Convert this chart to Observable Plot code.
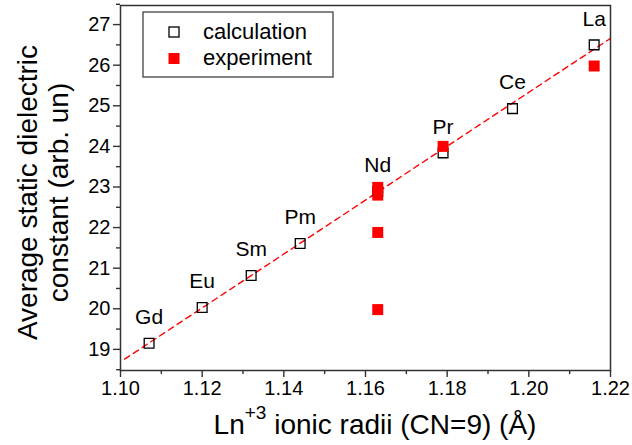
<!DOCTYPE html>
<html>
<head>
<meta charset="utf-8">
<script src="https://cdn.jsdelivr.net/npm/d3@7"></script>
<script src="https://cdn.jsdelivr.net/npm/@observablehq/plot@0.6"></script>
<style>
  html, body { margin: 0; padding: 0; background: #fff; }
  #chart { position: relative; width: 632px; height: 445px; }
</style>
</head>
<body>
<div id="chart"></div>
<script>
// ---- data ----
const elements   = ["Gd", "Eu", "Sm", "Pm", "Nd", "Pr", "Ce", "La"];
const calcRadius = [1.107, 1.120, 1.132, 1.144, 1.163, 1.179, 1.196, 1.216];
const calcValue  = [19.15, 20.03, 20.82, 21.61, 22.89, 23.84, 24.93, 26.50];

const expRadius  = [1.163, 1.163, 1.163, 1.163, 1.179, 1.216];
const expValue   = [22.99, 22.80, 21.88, 19.98, 24.00, 25.98];

const fitRadius  = [1.101, 1.220];
const fitValue   = [18.76, 26.66];

const xTicks      = [1.10, 1.12, 1.14, 1.16, 1.18, 1.20, 1.22];
const xTickLabels = ["1.10", "1.12", "1.14", "1.16", "1.18", "1.20", "1.22"];
const xMinor      = [1.11, 1.13, 1.15, 1.17, 1.19, 1.21];
const yTicks      = [19, 20, 21, 22, 23, 24, 25, 26, 27];
const yMinor      = [18.5, 19.5, 20.5, 21.5, 22.5, 23.5, 24.5, 25.5, 26.5, 27.5];

const xTitleParts = ["Ln", "+3", " ionic radii (CN=9) (Å)"];
const yTitleLines = ["Average static dielectric", "constant (arb. un)"];
const legendLabels = ["calculation", "experiment"];

// ---- tables ----
const calc = elements.map((e, i) => ({el: e, x: calcRadius[i], y: calcValue[i]}));
const exp  = expRadius.map((x, i) => ({x, y: expValue[i]}));
const fit  = fitRadius.map((x, i) => ({x, y: fitValue[i]}));

const FONT = "Liberation Sans, Arial, sans-serif";
const AX = "#333";

const plot = Plot.plot({
  width: 632,
  height: 445,
  marginLeft: 120,
  marginRight: 22,
  marginTop: 5,
  marginBottom: 75,
  style: {fontFamily: FONT, background: "#fff", color: "#000"},
  x: {domain: [1.10, 1.22]},
  y: {domain: [18.48, 27.47]},
  marks: [
    Plot.line(fit, {x: "x", y: "y", stroke: "#ff0000", strokeWidth: 1.4, strokeDasharray: "6,4.5"}),
    Plot.dot(calc, {x: "x", y: "y", symbol: "square", r: 5.5, stroke: "#000", strokeWidth: 1.3, fill: "none"}),
    Plot.dot(exp, {x: "x", y: "y", symbol: "square", r: 6.2, fill: "#ff0000", stroke: "none"}),
    Plot.text(calc, {x: "x", y: "y", text: "el", dy: -26, fontSize: 21, fill: "#000", textAnchor: "middle", lineAnchor: "middle"}),
    Plot.frame({stroke: AX, strokeWidth: 1.5}),
    Plot.axisX(xTicks, {tickSize: 7, tickPadding: 3, fontSize: 20, stroke: AX, strokeWidth: 1.4, fill: "#000",
      tickFormat: (d, i) => xTickLabels[i], label: null}),
    Plot.axisX(xMinor, {tickSize: 4, text: null, stroke: AX, strokeWidth: 1.4, label: null}),
    Plot.axisY(yTicks, {tickSize: 7, tickPadding: 3, fontSize: 20, stroke: AX, strokeWidth: 1.4, fill: "#000", label: null}),
    Plot.axisY(yMinor, {tickSize: 4, text: null, stroke: AX, strokeWidth: 1.4, label: null})
  ]
});

document.getElementById("chart").appendChild(plot);
const svg = d3.select(plot);

// x axis title with superscript
const xt = svg.append("text")
  .attr("x", 375).attr("y", 434)
  .attr("text-anchor", "middle")
  .attr("font-family", FONT).attr("font-size", 28).attr("fill", "#000");
xt.append("tspan").text(xTitleParts[0]);
xt.append("tspan").attr("font-size", 19).attr("dy", -15).text(xTitleParts[1]);
xt.append("tspan").attr("dy", 15).text(xTitleParts[2]);

// y axis title, two lines, rotated
const yt = svg.append("text")
  .attr("transform", "translate(37,192.5) rotate(-90)")
  .attr("text-anchor", "middle")
  .attr("font-family", FONT).attr("font-size", 28).attr("fill", "#000");
yt.append("tspan").attr("x", 0).attr("y", 0).text(yTitleLines[0]);
yt.append("tspan").attr("x", 0).attr("y", 31).text(yTitleLines[1]);

// legend box inside the plot frame
const lg = svg.append("g").attr("font-family", FONT).attr("text-anchor", "start");
lg.append("rect").attr("x", 143).attr("y", 12).attr("width", 190).attr("height", 65)
  .attr("fill", "#fff").attr("stroke", AX).attr("stroke-width", 1.2);
lg.append("rect").attr("x", 169).attr("y", 27).attr("width", 10).attr("height", 10)
  .attr("fill", "none").attr("stroke", "#000").attr("stroke-width", 1.3);
lg.append("rect").attr("x", 168.5).attr("y", 53).attr("width", 11).attr("height", 11)
  .attr("fill", "#ff0000");
lg.append("text").attr("x", 203).attr("y", 39).attr("font-size", 22).attr("text-anchor", "start").text(legendLabels[0]);
lg.append("text").attr("x", 203).attr("y", 65).attr("font-size", 22).attr("text-anchor", "start").text(legendLabels[1]);
</script>
</body>
</html>
